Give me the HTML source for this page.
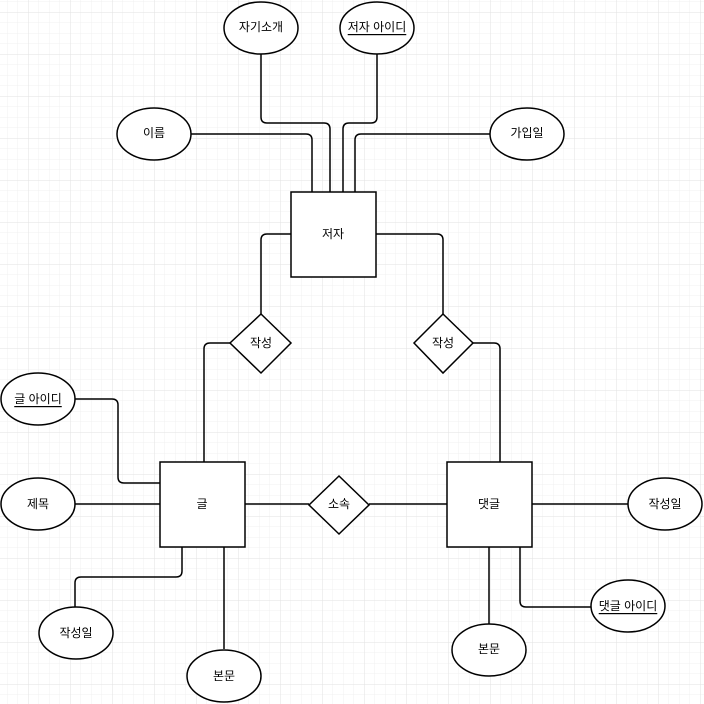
<!DOCTYPE html>
<html><head><meta charset="utf-8"><style>
html,body{margin:0;padding:0;background:#fff;}
svg{display:block;}
text{font-family:"Liberation Sans","Noto Sans CJK KR",sans-serif;font-size:12px;fill:#000;text-anchor:middle;dominant-baseline:central;}
</style></head><body>
<svg width="704" height="704" viewBox="0 0 704 704" xmlns="http://www.w3.org/2000/svg">
<defs>
<pattern id="minor" x="28" y="12" width="10.5" height="10.5" patternUnits="userSpaceOnUse">
<path d="M0 0H10.5M0 0V10.5" stroke="#f1f1f1" stroke-width="1" fill="none"/>
</pattern>
<pattern id="major" x="28" y="12" width="42" height="42" patternUnits="userSpaceOnUse">
<path d="M0 0H42M0 0V42" stroke="#e2e2e2" stroke-width="1" fill="none"/>
</pattern>
</defs>
<rect width="704" height="704" fill="url(#minor)"/>
<rect width="704" height="704" fill="url(#major)"/>
<g fill="none" stroke="#000" stroke-width="1.5" stroke-linejoin="round">
<path d="M261 54V117q0 6 6 6H324q6 0 6 6V192"/>
<path d="M377 54V117q0 6 -6 6H349q-6 0 -6 6V192"/>
<path d="M191 134H306q6 0 6 6V192"/>
<path d="M490 134H361q-6 0 -6 6V192"/>
<path d="M291 234H267q-6 0 -6 6V314"/>
<path d="M376 234H437q6 0 6 6V314"/>
<path d="M230 343H210q-6 0 -6 6V462"/>
<path d="M473 343H494q6 0 6 6V462"/>
<path d="M75 399H112q6 0 6 6V477q0 6 6 6H160"/>
<path d="M75 504H160"/>
<path d="M245 504H309"/>
<path d="M369 504H447"/>
<path d="M532 504H628"/>
<path d="M182 547V571q0 6 -6 6H81q-6 0 -6 6V607"/>
<path d="M224 547V649"/>
<path d="M489 547V624"/>
<path d="M520 547V601q0 6 6 6H592"/>
</g>
<g fill="#fff" stroke="#000" stroke-width="1.5">
<ellipse cx="261" cy="28" rx="37" ry="26"/>
<ellipse cx="377" cy="28" rx="37" ry="26"/>
<ellipse cx="154" cy="134" rx="37" ry="26"/>
<ellipse cx="527" cy="134" rx="37" ry="26"/>
<rect x="291" y="192" width="85" height="85"/>
<path d="M261 314L291 343L261 373L230 343Z"/>
<path d="M443 314L473 343L443 373L414 343Z"/>
<ellipse cx="38" cy="399" rx="37" ry="26"/>
<ellipse cx="38" cy="504" rx="37" ry="26"/>
<rect x="160" y="462" width="85" height="85"/>
<path d="M339 476L369 505L339 534L309 505Z"/>
<rect x="447" y="462" width="85" height="85"/>
<ellipse cx="665" cy="504" rx="37" ry="26"/>
<ellipse cx="76" cy="633" rx="37" ry="26"/>
<ellipse cx="224" cy="676" rx="37" ry="26"/>
<ellipse cx="489" cy="650" rx="37" ry="26"/>
<ellipse cx="628" cy="606" rx="37" ry="26"/>
</g>
<text x="261" y="27">자기소개</text>
<text x="377" y="27" text-decoration="underline">저자 아이디</text>
<text x="154" y="133">이름</text>
<text x="527" y="133">가입일</text>
<text x="333" y="234">저자</text>
<text x="261" y="343">작성</text>
<text x="443" y="343">작성</text>
<text x="38" y="399" text-decoration="underline">글 아이디</text>
<text x="38" y="504">제목</text>
<text x="202" y="504">글</text>
<text x="339" y="504">소속</text>
<text x="489" y="504">댓글</text>
<text x="665" y="504">작성일</text>
<text x="76" y="633">작성일</text>
<text x="224" y="676">본문</text>
<text x="489" y="649">본문</text>
<text x="628" y="606" text-decoration="underline">댓글 아이디</text>
</svg>
<div style="display:none">
<u>저자 아이디</u><u>글 아이디</u><u>댓글 아이디</u>
</div>
</body></html>
